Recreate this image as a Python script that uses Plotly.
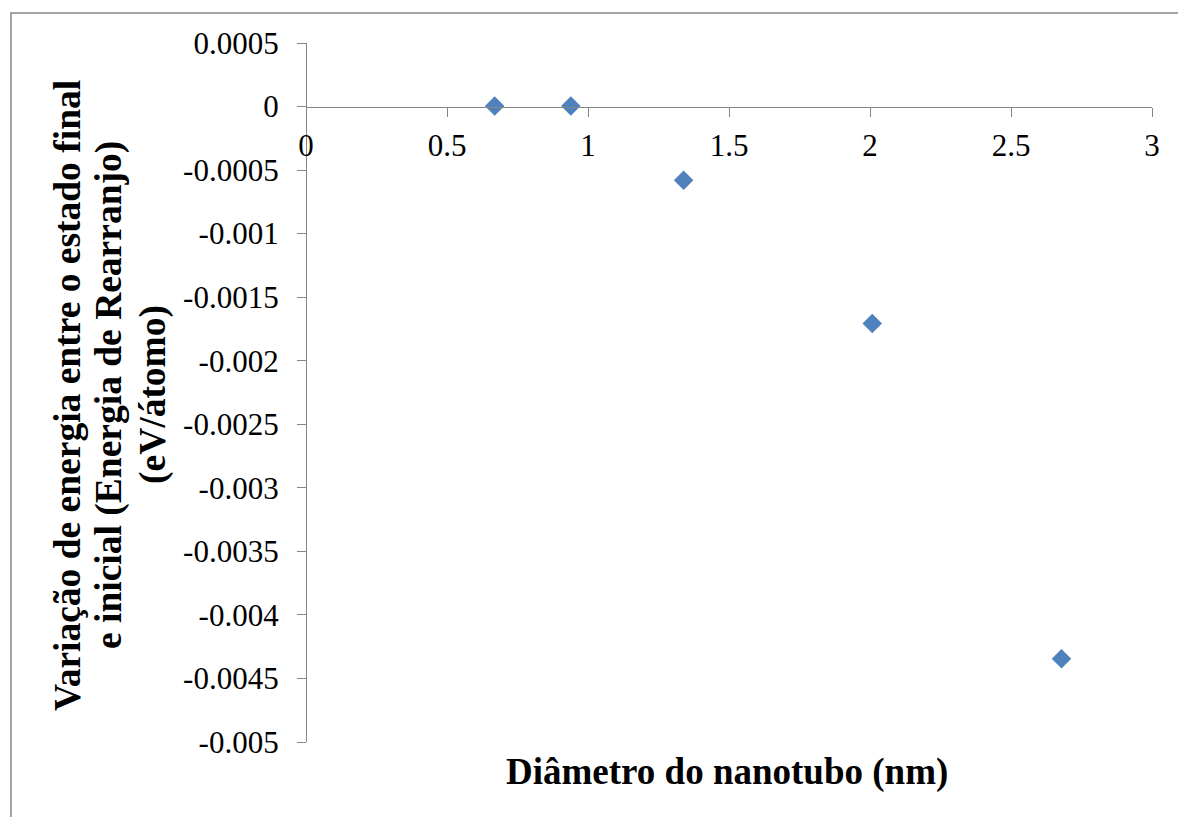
import plotly.graph_objects as go

# Nanotube diameter (nm) and rearrangement energy (eV/atom)
diametro = [0.669, 0.939, 1.339, 2.008, 2.679]
energia = [0.000005, 0.000005, -0.000579, -0.001707, -0.004345]

x_ticks = [0, 0.5, 1, 1.5, 2, 2.5, 3]
x_labels = ["0", "0.5", "1", "1.5", "2", "2.5", "3"]
y_ticks = [0.0005, 0, -0.0005, -0.001, -0.0015, -0.002, -0.0025,
           -0.003, -0.0035, -0.004, -0.0045, -0.005]
y_labels = ["0.0005", "0", "-0.0005", "-0.001", "-0.0015", "-0.002", "-0.0025",
            "-0.003", "-0.0035", "-0.004", "-0.0045", "-0.005"]

x_title = "Diâmetro do nanotubo (nm)"
y_title_lines = ["Variação de energia entre o estado final",
                 "e inicial (Energia de Rearranjo)",
                 "(eV/átomo)"]

W, H = 1178, 817
L, R, T, B = 306, 26, 43, 75
pw, ph = W - L - R, H - T - B

def px(x):
    return (x - L) / pw

def py(y):
    return (H - B - y) / ph

FONT = "Liberation Serif"
AXIS = "#868686"
YMIN, YMAX = -0.005, 0.0005

fig = go.Figure(go.Scatter(
    x=diametro, y=energia, mode="markers",
    marker=dict(symbol="diamond", size=15, color="#4F81BD", line=dict(width=0)),
    showlegend=False,
))

# y-axis title: one rotated annotation per line
y_title_ann = [
    dict(
        text=f"<b>{line}</b>",
        xref="paper", yref="paper", x=px(cx), y=py(395),
        xanchor="center", yanchor="middle", showarrow=False,
        textangle=-90, font=dict(size=37.5, family=FONT, color="black"),
    )
    for line, cx in zip(y_title_lines, [67, 109, 153])
]

fig.update_layout(
    width=W, height=H,
    margin=dict(l=L, r=R, t=T, b=B, pad=0),
    paper_bgcolor="white", plot_bgcolor="white",
    font=dict(family=FONT, color="black"),
    xaxis=dict(
        range=[0, 3], tickvals=x_ticks, ticktext=x_labels,
        showgrid=False, zeroline=False, showline=True,
        linecolor=AXIS, linewidth=1.3,
        ticks="outside", ticklen=9, tickcolor=AXIS, tickwidth=1.3,
        tickfont=dict(size=31, family=FONT, color="black"),
        ticklabelstandoff=2,
        anchor="free", position=(0 - YMIN) / (YMAX - YMIN),
    ),
    yaxis=dict(
        range=[YMIN, YMAX], tickvals=y_ticks, ticktext=y_labels,
        showgrid=False, zeroline=False, showline=True,
        linecolor=AXIS, linewidth=1.3,
        ticks="outside", ticklen=9, tickcolor=AXIS, tickwidth=1.3,
        tickfont=dict(size=31, family=FONT, color="black"),
        ticklabelstandoff=12,
        anchor="free", position=0,
    ),
    shapes=[dict(
        type="rect", xref="paper", yref="paper",
        x0=px(11), x1=px(W + 20), y0=py(H + 20), y1=py(13),
        line=dict(color=AXIS, width=1.5), fillcolor="rgba(0,0,0,0)",
        layer="below",
    )],
    annotations=[
        dict(
            text=f"<b>{x_title}</b>",
            xref="paper", yref="paper", x=px(727), y=py(772),
            xanchor="center", yanchor="middle", showarrow=False,
            font=dict(size=37, family=FONT, color="black"),
        ),
    ] + y_title_ann,
)

fig.write_html("out.html")
